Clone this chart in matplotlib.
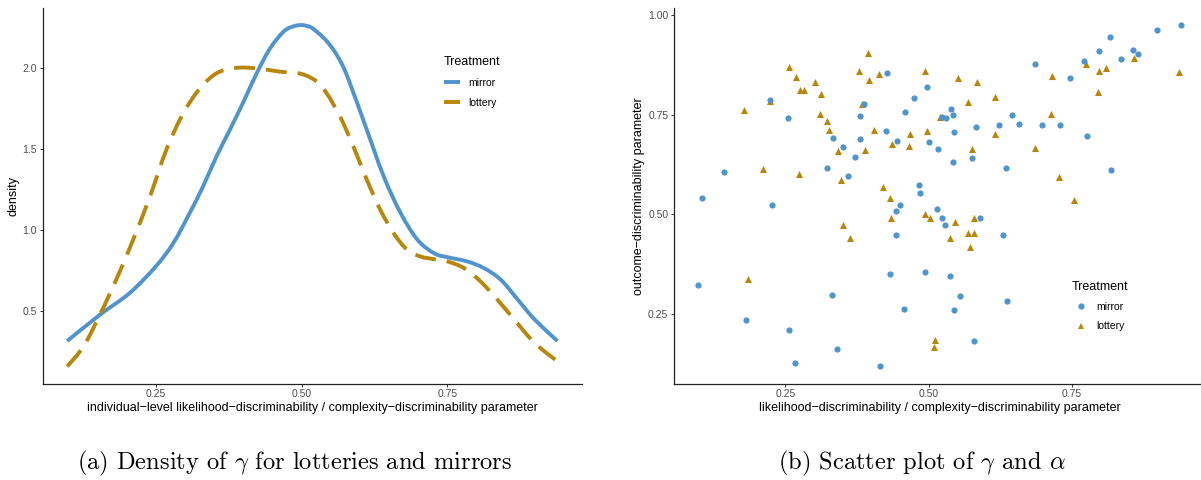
import matplotlib
matplotlib.use("Agg")
import matplotlib.pyplot as plt
from matplotlib.lines import Line2D
from matplotlib.path import Path
from matplotlib.patches import PathPatch

plt.rcParams['font.family'] = ['Liberation Sans', 'DejaVu Sans']
plt.rcParams['mathtext.fontset'] = 'cm'

BLUE = "#4F94CD"   # steelblue3
GOLD = "#B8860B"   # darkgoldenrod

# density estimates of gamma, read along the x grid
mirror_x = [0.098, 0.154, 0.205, 0.250, 0.280, 0.308, 0.331, 0.354, 0.377, 0.400,
            0.423, 0.446, 0.469, 0.485, 0.500, 0.515, 0.526, 0.540, 0.555, 0.570,
            0.583, 0.612, 0.641, 0.670, 0.699, 0.727, 0.750, 0.784, 0.813, 0.842,
            0.871, 0.900, 0.939]
mirror_d = [0.315, 0.477, 0.611, 0.776, 0.920, 1.105, 1.270, 1.455, 1.620, 1.790,
            1.969, 2.123, 2.226, 2.258, 2.267, 2.255, 2.226, 2.180, 2.113, 2.020,
            1.907, 1.619, 1.331, 1.105, 0.940, 0.858, 0.833, 0.807, 0.765, 0.693,
            0.570, 0.447, 0.315]

lottery_x = [0.098, 0.126, 0.154, 0.182, 0.211, 0.240, 0.268, 0.297, 0.326, 0.354,
             0.383, 0.406, 0.435, 0.463, 0.500, 0.526, 0.543, 0.566, 0.589, 0.612,
             0.635, 0.658, 0.681, 0.704, 0.727, 0.750, 0.779, 0.807, 0.836, 0.865,
             0.900, 0.939]
lottery_d = [0.158, 0.282, 0.477, 0.693, 0.940, 1.208, 1.496, 1.722, 1.877, 1.969,
             2.000, 2.004, 1.994, 1.979, 1.965, 1.918, 1.846, 1.702, 1.516, 1.311,
             1.126, 0.981, 0.879, 0.837, 0.821, 0.807, 0.765, 0.683, 0.570, 0.447,
             0.302, 0.189]

# individual gamma / alpha estimates
mirror_gamma = [0.098, 0.105, 0.143, 0.182, 0.224, 0.227, 0.254, 0.256, 0.267, 0.322,
                0.332, 0.333, 0.340, 0.351, 0.360, 0.371, 0.380, 0.381, 0.387, 0.416,
                0.425, 0.428, 0.432, 0.443, 0.443, 0.445, 0.450, 0.457, 0.458, 0.474,
                0.484, 0.485, 0.493, 0.497, 0.500, 0.514, 0.517, 0.524, 0.524, 0.529,
                0.531, 0.537, 0.539, 0.542, 0.543, 0.544, 0.544, 0.555, 0.575, 0.579,
                0.582, 0.590, 0.622, 0.630, 0.635, 0.636, 0.646, 0.657, 0.686, 0.697,
                0.729, 0.746, 0.771, 0.777, 0.798, 0.816, 0.819, 0.836, 0.856, 0.865,
                0.899, 0.940]
mirror_alpha = [0.323, 0.541, 0.605, 0.235, 0.786, 0.523, 0.740, 0.209, 0.127, 0.616,
                0.299, 0.692, 0.162, 0.668, 0.595, 0.644, 0.746, 0.689, 0.777, 0.119,
                0.708, 0.853, 0.350, 0.449, 0.509, 0.683, 0.523, 0.262, 0.756, 0.791,
                0.573, 0.553, 0.355, 0.819, 0.680, 0.514, 0.664, 0.490, 0.744, 0.472,
                0.741, 0.346, 0.764, 0.750, 0.632, 0.706, 0.261, 0.295, 0.641, 0.183,
                0.718, 0.490, 0.723, 0.448, 0.615, 0.282, 0.750, 0.726, 0.877, 0.723,
                0.724, 0.841, 0.884, 0.695, 0.908, 0.944, 0.612, 0.890, 0.912, 0.902,
                0.961, 0.974]

lottery_gamma = [0.178, 0.185, 0.211, 0.224, 0.257, 0.269, 0.276, 0.282, 0.274, 0.302,
                 0.313, 0.311, 0.323, 0.327, 0.342, 0.348, 0.351, 0.363, 0.378, 0.384,
                 0.389, 0.394, 0.396, 0.404, 0.413, 0.420, 0.432, 0.434, 0.436, 0.465,
                 0.468, 0.494, 0.494, 0.497, 0.503, 0.512, 0.510, 0.520, 0.538, 0.546,
                 0.551, 0.568, 0.568, 0.572, 0.575, 0.579, 0.579, 0.584, 0.615, 0.616,
                 0.686, 0.713, 0.716, 0.727, 0.753, 0.774, 0.796, 0.798, 0.809, 0.858,
                 0.936]
lottery_alpha = [0.761, 0.339, 0.613, 0.785, 0.870, 0.845, 0.812, 0.812, 0.602, 0.832,
                 0.802, 0.752, 0.733, 0.710, 0.659, 0.585, 0.472, 0.440, 0.859, 0.776,
                 0.661, 0.905, 0.836, 0.711, 0.851, 0.568, 0.541, 0.491, 0.677, 0.671,
                 0.700, 0.859, 0.501, 0.708, 0.491, 0.185, 0.168, 0.743, 0.441, 0.482,
                 0.842, 0.782, 0.454, 0.419, 0.663, 0.454, 0.492, 0.832, 0.793, 0.700,
                 0.665, 0.751, 0.847, 0.593, 0.536, 0.877, 0.806, 0.860, 0.867, 0.892,
                 0.857]

TICK_COL = "#4D4D4D"
TICK_FS = 7.5
TITLE_FS = 9
LW = 2.8
DASH = (0, (5.4, 2.8))


def expand(vals, mult=0.05):
    lo, hi = min(vals), max(vals)
    pad = (hi - lo) * mult
    return lo - pad, hi + pad


def smooth_path(xs, ys):
    """Catmull-Rom through the points, written as cubic Bezier segments."""
    pts = list(zip(xs, ys))
    verts, codes = [pts[0]], [Path.MOVETO]
    for i in range(len(pts) - 1):
        p0 = pts[i - 1] if i > 0 else pts[i]
        p1, p2 = pts[i], pts[i + 1]
        p3 = pts[i + 2] if i + 2 < len(pts) else pts[i + 1]
        c1 = (p1[0] + (p2[0] - p0[0]) / 6, p1[1] + (p2[1] - p0[1]) / 6)
        c2 = (p2[0] - (p3[0] - p1[0]) / 6, p2[1] - (p3[1] - p1[1]) / 6)
        verts += [c1, c2, p2]
        codes += [Path.CURVE4] * 3
    return Path(verts, codes)


def classic(ax):
    for s in ("top", "right"):
        ax.spines[s].set_visible(False)
    for s in ("left", "bottom"):
        ax.spines[s].set_color("#222222")
        ax.spines[s].set_linewidth(0.9)
    ax.tick_params(length=2.3, width=0.7, color="#333333", pad=1.8,
                   labelsize=TICK_FS, labelcolor=TICK_COL)


W, H = 1201, 480
fig = plt.figure(figsize=(W / 100, H / 100), dpi=100)
top, bot = 8, 383.5
ax1 = fig.add_axes([42.7 / W, 1 - bot / H, (582 - 42.7) / W, (bot - top) / H])
ax2 = fig.add_axes([674 / W, 1 - bot / H, (1205 - 674) / W, (bot - top) / H])

# (a) density curves
ax1.add_patch(PathPatch(smooth_path(mirror_x, mirror_d), fill=False,
                        edgecolor=BLUE, lw=LW, capstyle="butt", joinstyle="round"))
ax1.add_patch(PathPatch(smooth_path(lottery_x, lottery_d), fill=False,
                        edgecolor=GOLD, lw=LW, linestyle=DASH,
                        capstyle="butt", joinstyle="round"))
ax1.set_xlim(*expand(mirror_x + lottery_x))
ax1.set_ylim(*expand(mirror_d + lottery_d))
ax1.set_xticks([0.25, 0.50, 0.75], ["0.25", "0.50", "0.75"])
ax1.set_yticks([0.5, 1.0, 1.5, 2.0], ["0.5", "1.0", "1.5", "2.0"])
classic(ax1)
ax1.set_xlabel("individual\u2212level likelihood\u2212discriminability / "
               "complexity\u2212discriminability parameter",
               fontsize=TITLE_FS, va="center")
ax1.xaxis.set_label_coords(0.5, -0.066)
ax1.set_ylabel("density", fontsize=TITLE_FS, va="center")
ax1.yaxis.set_label_coords(-0.055, 0.5)
line_handles = [Line2D([], [], color=BLUE, lw=LW, solid_capstyle="butt"),
                Line2D([], [], color=GOLD, lw=LW, linestyle=DASH,
                       dash_capstyle="butt")]
ax1.legend(line_handles, ["mirror", "lottery"], title="Treatment", frameon=False,
           loc="upper left", bbox_to_anchor=(0.744, 0.872), fontsize=TICK_FS,
           title_fontsize=TITLE_FS, alignment="left", handlelength=1.5,
           handletextpad=0.8, labelspacing=0.95, borderpad=0, borderaxespad=0)

# (b) scatter of gamma vs alpha
ax2.scatter(lottery_gamma, lottery_alpha, marker="^", s=26, color=GOLD,
            linewidths=0, zorder=2)
ax2.scatter(mirror_gamma, mirror_alpha, marker="o", s=20, color=BLUE,
            linewidths=0, zorder=3)
ax2.set_xlim(*expand(mirror_gamma + lottery_gamma))
ax2.set_ylim(*expand(mirror_alpha + lottery_alpha))
ax2.set_xticks([0.25, 0.50, 0.75], ["0.25", "0.50", "0.75"])
ax2.set_yticks([0.25, 0.50, 0.75, 1.00], ["0.25", "0.50", "0.75", "1.00"])
classic(ax2)
ax2.set_xlabel("likelihood\u2212discriminability / complexity\u2212discriminability parameter",
               fontsize=TITLE_FS, va="center")
ax2.xaxis.set_label_coords(0.5, -0.066)
ax2.set_ylabel("outcome\u2212discriminability parameter", fontsize=TITLE_FS, va="center")
ax2.yaxis.set_label_coords(-0.066, 0.5)
marker_handles = [Line2D([], [], marker="o", ls="none", color=BLUE, markersize=4.5,
                         markeredgewidth=0),
                  Line2D([], [], marker="^", ls="none", color=GOLD, markersize=5,
                         markeredgewidth=0)]
ax2.legend(marker_handles, ["mirror", "lottery"], title="Treatment", frameon=False,
           loc="upper left", bbox_to_anchor=(0.749, 0.274), fontsize=TICK_FS,
           title_fontsize=TITLE_FS, alignment="left", handlelength=1.8,
           handletextpad=0.6, labelspacing=0.9, borderpad=0, borderaxespad=0)

fig.text(295 / W, 1 - 463 / H, r"(a) Density of $\gamma$ for lotteries and mirrors",
         family="cmr10", fontsize=17.6, ha="center", va="center")
fig.text(922 / W, 1 - 463 / H, r"(b) Scatter plot of $\gamma$ and $\alpha$",
         family="cmr10", fontsize=17.6, ha="center", va="center")

fig.savefig("out.png", dpi=100, facecolor="white")
